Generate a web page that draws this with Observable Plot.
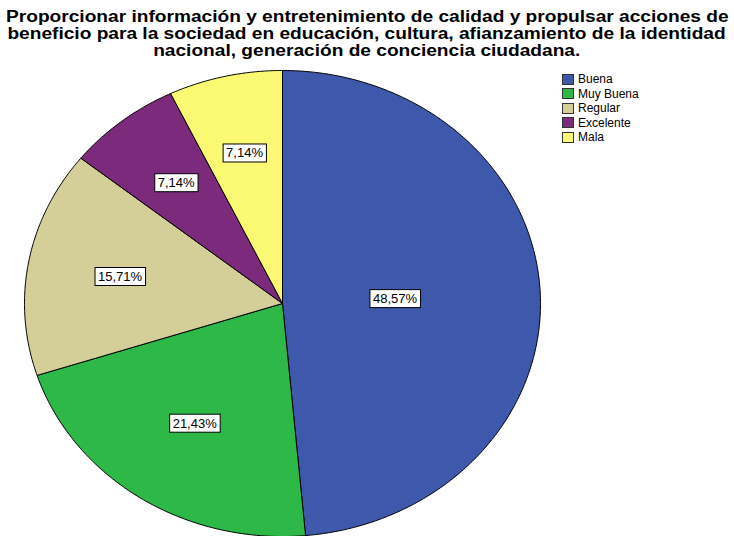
<!DOCTYPE html>
<html><head><meta charset="utf-8">
<script src="https://cdn.jsdelivr.net/npm/d3@7"></script>
<script src="https://cdn.jsdelivr.net/npm/@observablehq/plot@0.6"></script>
<style>
body{margin:0;background:#fff;}
#wrap{position:relative;width:734px;height:536px;overflow:hidden;font-family:"Liberation Sans",Arial,sans-serif;}
#chart{position:absolute;left:0;top:0;}
#title{position:absolute;left:0;top:8px;width:734px;text-align:center;font-weight:bold;font-size:16px;line-height:17px;color:#000;}
#title div{white-space:nowrap;}
#title span{display:inline-block;transform:scaleX(1.195);transform-origin:center;}
#legend{position:absolute;left:562px;top:72px;font-size:12px;color:#000;}
.item{display:flex;align-items:center;height:14.5px;}
.sw{width:10px;height:9px;border:1px solid #333;margin-right:4px;box-sizing:content-box;}
</style></head><body>
<div id="wrap"><div id="chart"></div><div id="title"></div><div id="legend"></div></div>
<script>
const categories = ["Buena", "Muy Buena", "Regular", "Excelente", "Mala"];
const percents = [48.57, 21.43, 15.71, 7.14, 7.14];
const colors = ["#3e58ac", "#2eb848", "#d4ce98", "#7b2a7c", "#fbf874"];
const titleLines = [
  "Proporcionar información y entretenimiento de calidad y propulsar acciones de",
  "beneficio para la sociedad en educación, cultura, afianzamiento de la identidad",
  "nacional, generación de conciencia ciudadana."
];

const W = 734, H = 536, cx = 282, cy = 303, rx = 258, ry = 233;
const pie = d3.pie().sort(null).value(d => d)(percents);
const slices = [];
const labels = [];
pie.forEach((p, i) => {
  const cat = categories[i];
  const span = p.endAngle - p.startAngle;
  const n = Math.max(2, Math.ceil(span / 0.01));
  slices.push({x: 0, y: 0, cat});
  for (let k = 0; k <= n; k++) {
    const a = p.startAngle + span * k / n;
    slices.push({x: Math.sin(a), y: Math.cos(a), cat});
  }
  slices.push({x: 0, y: 0, cat});
  const h = span / 2, m = p.startAngle + h, r = 2 / 3 * Math.sin(h) / h;
  labels.push({x: r * Math.sin(m), y: r * Math.cos(m), text: d3.format(".2f")(percents[i]).replace(".", ",") + "%"});
});

const plot = Plot.plot({
  width: W, height: H, margin: 0,
  style: {fontFamily: "Liberation Sans, Arial, sans-serif", background: "transparent"},
  x: {domain: [-cx / rx, (W - cx) / rx], axis: null},
  y: {domain: [-(H - cy) / ry, cy / ry], axis: null},
  color: {domain: categories, range: colors},
  marks: [
    Plot.line(slices, {x: "x", y: "y", z: "cat", fill: "cat", stroke: "#000", strokeWidth: 1, strokeLinejoin: "round"}),
    Plot.text(labels, {x: "x", y: "y", text: "text", fontSize: 13, fill: "#000"})
  ]
});
document.getElementById("chart").append(plot);

plot.querySelectorAll('g[aria-label="text"] text').forEach(t => {
  const b = t.getBBox();
  const r = document.createElementNS("http://www.w3.org/2000/svg", "rect");
  r.setAttribute("x", b.x - 3);
  r.setAttribute("y", b.y - 1.5);
  r.setAttribute("width", b.width + 6);
  r.setAttribute("height", b.height + 3);
  r.setAttribute("fill", "#fff");
  r.setAttribute("stroke", "#000");
  r.setAttribute("stroke-width", 1);
  const tr = t.getAttribute("transform");
  if (tr) r.setAttribute("transform", tr);
  t.parentNode.insertBefore(r, t);
});

const tt = document.getElementById("title");
titleLines.forEach(line => {
  const d = document.createElement("div");
  const s = document.createElement("span");
  s.textContent = line;
  d.append(s);
  tt.append(d);
});
const lg = document.getElementById("legend");
categories.forEach((c, i) => {
  const it = document.createElement("div");
  it.className = "item";
  const sw = document.createElement("div");
  sw.className = "sw";
  sw.style.background = colors[i];
  const tx = document.createElement("span");
  tx.textContent = c;
  it.append(sw, tx);
  lg.append(it);
});
</script>
</body></html>
